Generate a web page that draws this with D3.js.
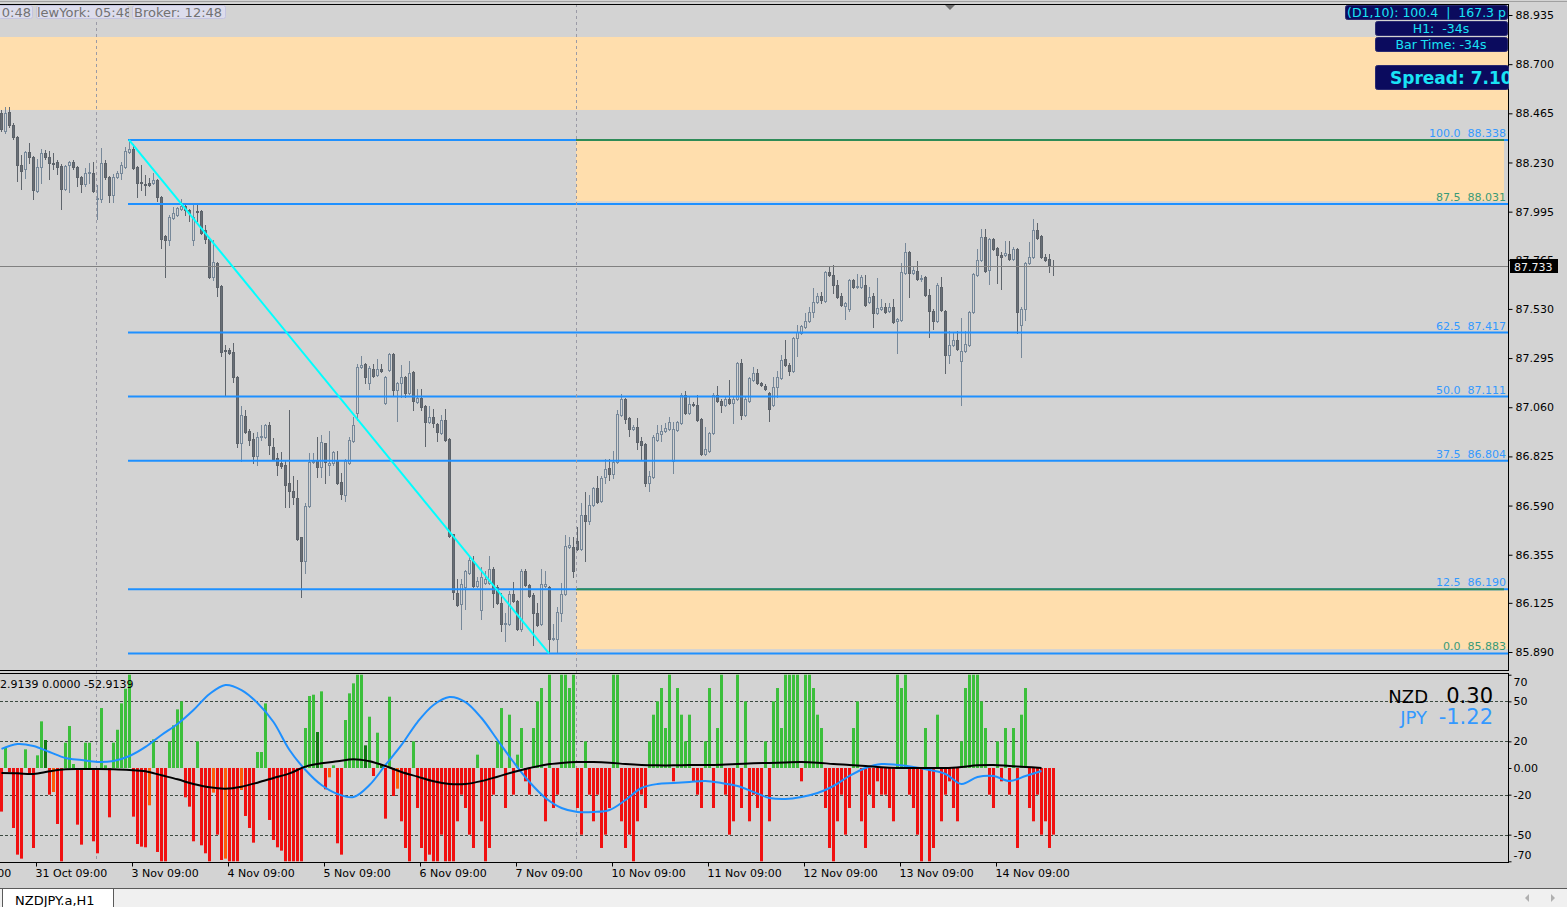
<!DOCTYPE html>
<html><head><meta charset="utf-8">
<script src="https://cdn.jsdelivr.net/npm/d3@7"></script>
<style>
body{margin:0;background:#d3d3d3;overflow:hidden}
svg{display:block}
text{font-family:"DejaVu Sans",sans-serif}
</style>
</head><body>
<svg id="chart" width="1567" height="907"></svg>
<script>
// ---------------- DATA ----------------
const opens=[88.467,88.381,88.472,88.410,88.352,88.218,88.199,88.281,88.257,88.093,
88.208,88.276,88.257,88.227,88.232,88.213,88.103,88.218,88.232,88.208,
88.160,88.127,88.179,88.179,88.055,88.055,88.227,88.160,88.074,88.160,
88.179,88.208,88.281,88.295,88.208,88.136,88.127,88.132,88.132,88.146,
88.065,87.878,87.859,87.965,87.979,88.007,88.022,88.003,87.859,87.998,
87.998,87.907,87.864,87.683,87.750,87.640,87.334,87.334,87.324,87.204,
86.889,87.018,86.946,86.908,86.827,86.918,86.918,86.975,86.870,86.818,
86.794,86.784,86.698,86.660,86.626,86.440,86.326,86.588,86.798,86.803,
86.774,86.889,86.784,86.794,86.803,86.703,86.641,86.794,86.899,87.032,
87.252,87.266,87.175,87.242,87.214,87.242,87.080,87.237,87.315,87.142,
87.175,87.204,87.128,87.228,87.085,87.104,87.066,86.989,87.013,86.980,
86.936,86.999,86.908,86.454,86.172,86.119,86.201,86.268,86.326,86.206,
86.091,86.220,86.220,86.288,86.201,86.124,86.024,86.024,86.168,86.134,
86.000,86.278,86.211,86.163,86.076,86.024,86.206,86.201,85.952,85.952,
86.076,86.168,86.392,86.392,86.421,86.383,86.545,86.516,86.593,86.674,
86.612,86.726,86.770,86.741,86.798,87.023,87.099,87.008,86.955,86.965,
86.898,86.884,86.698,86.726,86.903,86.932,86.946,86.955,86.803,86.951,
86.984,87.118,87.032,87.075,87.071,87.004,86.837,86.851,86.936,87.118,
87.089,87.071,87.099,87.080,87.099,87.271,87.023,87.089,87.190,87.223,
87.175,87.161,87.128,87.071,87.156,87.199,87.290,87.262,87.233,87.391,
87.415,87.444,87.473,87.516,87.563,87.592,87.568,87.707,87.693,87.645,
87.592,87.544,87.530,87.669,87.635,87.635,87.645,87.563,87.592,87.511,
87.530,87.539,87.520,87.539,87.473,87.477,87.702,87.802,87.702,87.712,
87.674,87.683,87.597,87.520,87.473,87.635,87.520,87.310,87.358,87.382,
87.281,87.329,87.358,87.516,87.693,87.764,87.874,87.716,87.864,87.821,
87.788,87.788,87.792,87.769,87.816,87.454,87.530,87.750,87.778,87.907,
87.878,87.778,87.769,87.735];
const highs=[88.481,88.495,88.495,88.419,88.357,88.266,88.286,88.324,88.261,88.247,
88.295,88.290,88.286,88.276,88.242,88.222,88.218,88.238,88.242,88.213,
88.165,88.203,88.227,88.232,88.122,88.300,88.242,88.165,88.175,88.189,
88.232,88.304,88.338,88.319,88.213,88.218,88.170,88.156,88.179,88.151,
88.070,87.883,87.979,88.017,88.017,88.055,88.036,88.007,88.026,88.026,
88.003,87.931,87.869,87.859,87.754,87.645,87.358,87.343,87.367,87.209,
87.066,87.047,86.955,86.936,86.941,86.975,86.980,86.989,86.913,86.841,
86.846,86.808,87.047,86.731,86.712,86.440,86.603,86.841,86.841,86.918,
86.927,86.889,86.946,86.851,86.851,86.746,86.813,86.918,87.013,87.266,
87.305,87.271,87.257,87.266,87.290,87.266,87.209,87.319,87.319,87.180,
87.262,87.209,87.281,87.233,87.147,87.147,87.071,87.066,87.051,86.984,
87.023,87.051,86.913,86.454,86.239,86.239,86.283,86.345,86.349,86.249,
86.297,86.278,86.349,86.297,86.211,86.172,86.076,86.182,86.225,86.139,
86.288,86.288,86.216,86.172,86.124,86.288,86.278,86.206,86.024,86.105,
86.220,86.450,86.440,86.440,86.488,86.603,86.655,86.641,86.679,86.731,
86.731,86.813,86.813,86.851,87.047,87.123,87.104,87.013,86.975,87.008,
86.918,86.889,86.755,86.927,86.975,86.975,86.984,87.013,86.989,86.994,
87.128,87.137,87.114,87.085,87.118,87.008,86.965,86.941,87.128,87.161,
87.099,87.109,87.190,87.109,87.276,87.290,87.109,87.204,87.252,87.242,
87.180,87.171,87.133,87.204,87.233,87.310,87.382,87.271,87.396,87.454,
87.454,87.511,87.539,87.630,87.606,87.611,87.712,87.731,87.740,87.669,
87.606,87.563,87.674,87.674,87.697,87.693,87.693,87.635,87.606,87.678,
87.578,87.559,87.559,87.578,87.487,87.750,87.845,87.807,87.731,87.759,
87.693,87.688,87.626,87.530,87.654,87.683,87.525,87.425,87.415,87.425,
87.487,87.425,87.520,87.702,87.816,87.912,87.912,87.869,87.869,87.826,
87.802,87.855,87.855,87.826,87.821,87.539,87.754,87.850,87.960,87.941,
87.883,87.792,87.792,87.764];
const lows=[88.381,88.371,88.400,88.343,88.141,88.103,88.156,88.227,88.055,88.088,
88.132,88.247,88.151,88.199,88.175,88.007,88.098,88.088,88.199,88.117,
88.088,88.117,88.132,88.088,87.960,88.041,88.151,88.041,88.041,88.156,
88.151,88.203,88.276,88.199,88.065,88.098,88.074,88.117,88.127,88.046,
87.821,87.683,87.835,87.960,87.974,88.003,87.979,87.950,87.835,87.950,
87.888,87.845,87.678,87.669,87.592,87.305,87.118,87.315,87.180,86.870,
86.803,86.936,86.879,86.794,86.784,86.903,86.913,86.837,86.808,86.736,
86.770,86.583,86.583,86.598,86.425,86.153,86.268,86.583,86.794,86.726,
86.726,86.698,86.736,86.784,86.693,86.621,86.612,86.789,86.894,86.999,
87.247,87.175,87.147,87.204,87.209,87.228,87.075,87.233,87.118,86.994,
87.109,87.109,87.123,87.047,87.080,87.047,86.874,86.984,86.965,86.898,
86.932,86.898,86.440,86.143,86.110,86.000,86.095,86.263,86.201,86.201,
86.048,86.216,86.216,86.105,86.119,85.990,85.943,86.019,86.129,85.995,
85.990,86.206,86.153,85.924,86.014,86.019,86.201,85.883,85.947,85.884,
86.038,86.163,86.388,86.249,86.378,86.378,86.326,86.502,86.588,86.603,
86.607,86.698,86.712,86.722,86.794,87.018,86.984,86.922,86.951,86.860,
86.808,86.684,86.660,86.722,86.898,86.898,86.941,86.951,86.746,86.946,
86.980,87.028,87.028,87.066,86.994,86.832,86.832,86.846,86.932,87.085,
87.037,87.066,87.075,86.984,87.094,87.004,87.018,87.085,87.185,87.171,
87.161,87.142,86.994,87.066,87.109,87.195,87.257,87.214,87.228,87.305,
87.410,87.439,87.468,87.492,87.559,87.559,87.563,87.688,87.606,87.583,
87.544,87.482,87.520,87.630,87.630,87.630,87.544,87.559,87.444,87.506,
87.525,87.511,87.516,87.463,87.319,87.473,87.697,87.587,87.697,87.669,
87.664,87.592,87.396,87.434,87.468,87.520,87.224,87.271,87.353,87.334,
87.071,87.324,87.353,87.511,87.688,87.759,87.707,87.649,87.811,87.654,
87.626,87.783,87.764,87.764,87.415,87.300,87.477,87.745,87.774,87.864,
87.774,87.759,87.707,87.693];
const closes=[88.391,88.467,88.410,88.352,88.218,88.189,88.281,88.257,88.098,88.208,
88.276,88.257,88.227,88.223,88.208,88.103,88.213,88.232,88.208,88.160,
88.127,88.179,88.184,88.093,88.060,88.227,88.160,88.074,88.160,88.179,
88.218,88.286,88.295,88.203,88.132,88.132,88.122,88.122,88.146,88.065,
87.864,87.859,87.969,87.988,88.012,88.022,88.003,87.988,87.969,87.993,
87.893,87.864,87.683,87.754,87.635,87.324,87.329,87.319,87.204,86.889,
87.023,86.941,86.903,86.827,86.918,86.922,86.975,86.879,86.813,86.784,
86.779,86.688,86.660,86.631,86.430,86.326,86.588,86.798,86.803,86.774,
86.894,86.798,86.794,86.846,86.698,86.645,86.803,86.903,86.975,87.252,
87.262,87.204,87.247,87.209,87.242,87.233,87.204,87.315,87.142,87.175,
87.204,87.128,87.223,87.089,87.104,87.061,86.989,87.013,86.984,86.941,
86.999,86.903,86.445,86.177,86.114,86.216,86.278,86.330,86.206,86.230,
86.249,86.239,86.288,86.172,86.124,86.024,86.029,86.168,86.134,86.000,
86.278,86.211,86.158,86.076,86.019,86.216,86.216,85.952,85.957,86.081,
86.168,86.397,86.402,86.278,86.383,86.545,86.516,86.593,86.674,86.607,
86.722,86.765,86.741,86.798,87.028,87.099,87.004,86.955,86.965,86.894,
86.879,86.698,86.731,86.918,86.936,86.946,86.960,86.989,86.955,86.989,
87.118,87.032,87.075,87.071,86.999,86.837,86.860,86.936,87.118,87.089,
87.071,87.099,87.080,87.099,87.271,87.023,87.099,87.199,87.223,87.175,
87.166,87.147,87.051,87.156,87.204,87.286,87.262,87.233,87.391,87.420,
87.449,87.473,87.516,87.563,87.592,87.573,87.707,87.693,87.645,87.587,
87.549,87.559,87.669,87.635,87.640,87.683,87.549,87.587,87.511,87.535,
87.539,87.516,87.539,87.468,87.482,87.707,87.802,87.702,87.716,87.674,
87.678,87.597,87.520,87.473,87.645,87.525,87.310,87.358,87.382,87.339,
87.329,87.362,87.516,87.697,87.764,87.874,87.712,87.864,87.816,87.788,
87.778,87.797,87.769,87.816,87.516,87.530,87.750,87.778,87.907,87.869,
87.778,87.764,87.740,87.733];

const priceTicks=[88.935,88.700,88.465,88.230,87.995,87.765,87.530,87.295,87.060,86.825,86.590,86.355,86.125,85.890];
const indTicks=[70,50,20,0,-20,-50,-70];
const indGrid=[50,20,-20,-50];
const dateLabels=["30 Oct 09:00","31 Oct 09:00","3 Nov 09:00","4 Nov 09:00","5 Nov 09:00","6 Nov 09:00","7 Nov 09:00","10 Nov 09:00","11 Nov 09:00","12 Nov 09:00","13 Nov 09:00","14 Nov 09:00"];
const dateBars=[-15,9,33,57,81,105,129,153,177,201,225,249];
const separatorBars=[24,144];
const fibRatios=["100.0","87.5","62.5","50.0","37.5","12.5","0.0"];
const fibPrices=[88.338,88.031,87.417,87.111,86.804,86.190,85.883];
const fibGreenLabel=[false,true,false,false,false,false,true];
const fibStartBar=32, fibEndBar=137;
const topBand=[88.830,88.481];
const zoneUpper=[88.338,88.045];
const zoneLower=[86.190,85.904];
const zoneStartBar=144;
const currentPrice=87.733;

const hist=[-32.7,15.5,-3,-45,-65,-68,14,-5,-60,9.5,
35,21,-20,-18,-42,-70,19,31.5,3,-42.5,
-57.5,19,19,-55,-64,45,2,-37,19,28.7,
48.5,59.5,70,-36.5,-57,-59,-59.5,-28,21.5,-63,
-70,-70,20,32,44,50,-22,-29,-55,20,
-58,-64,-70,-18.5,-50,-69,-68,-70,-70,-70,
-16.5,-36,-45,-56,12,12,48.5,-39,-54,-59.5,
-62,-70,-70,-70,-70,-70,30,54,55,27,
57.5,-16,-7,2,-56.5,-65,36,56,63.5,70,
70,17,38.5,-6,26.5,3,-38,53.5,-21,-15.5,
-40,-60,-70,20,-30,-60,-70,-65,
-70,-70,-50,-70,-70,-70,-40,-20,
-30,-50,-60,10,-40,-70,-60,-20,
20,45,-30,40,-20,10,30,-10,
-20,30,50,60,-40,70,-30,-20,
70,70,60,70,-30,-50,20,-20,
-40,-20,-60,-50,-30,70,70,-40,
-60,-50,-70,-40,-20,-30,20,40,
50,60,30,70,-10,60,40,20,
40,-10,-20,-30,20,60,-30,30,
70,-20,-50,-40,70,-30,50,-40,
-20,-30,-70,20,-40,50,60,30,
70,70,70,70,-10,70,70,60,
40,30,-30,-60,-70,-40,-20,-50,
-30,30,50,-40,-60,-20,-30,-10,
-20,-20,-30,-40,70,60,70,-20,
-30,-50,-70,30,-70,-60,40,-40,
-20,-10,-30,-40,20,60,70,70,
70,50,30,-20,-30,20,-10,30,
-20,30,-60,40,60,-30,-40,-20,
-50,-40,-60,-50];
const darkGreenBars=[11,79,91,95];
const orangeBars=[13,37,53,56,60,82,99];

// smoothed lines, one value every 4 bars
const blueLine=[14.3,18,16.5,12,7.5,6,4.5,5.3,9,15.8,24.8,33,43.5,55.5,62.3,58.5,48.8,34.5,13.5,-1.5,-12.8,-19.5,-21.8,-12.8,2.3,17.3,34.5,47.3,53.3,49.5,37.5,21,4.5,-10.5,-22.5,-30,-33,-33,-31.5,-24,-15,-12,-11.3,-10.5,-9.8,-11.3,-13.5,-18,-22.5,-23.3,-21.8,-18.8,-13.5,-6,0,3,2.3,0.8,-1.5,-4.5,-12,-6.8,-6,-9.8,-6,-2.3];
const blackLine=[-3.8,-4,-4.5,-2.5,-1,-0.8,-0.8,-1,-1.5,-2.5,-5.5,-8.5,-12,-14.5,-15.5,-14,-11,-7.5,-4,1,3.5,5,6.5,5,1.5,-3,-6.5,-10,-12,-12,-9.8,-6.5,-3,0,2.5,3.8,4.5,4.5,4,3,2.3,2,2,2.3,2.3,2.5,3,3.5,3.8,4.2,4.5,4,3,2.3,1.5,0.5,0,0,0,0,0.8,2,2.3,1.5,0.8,0];
const lineStep=4;

// ---------------- DRAW ----------------
const svg=d3.select("#chart");
const PR=1508, MT=4, MB=670, IT=673, IB=862;
const x=d3.scaleLinear().domain([0,377]).range([0,PR]);
const y=d3.scaleLinear().domain([85.890,88.935]).range([652,15]);
const yi=d3.scaleLinear().domain([-70,70]).range([861.3,674.7]).clamp(true);

svg.append("rect").attr("width",1567).attr("height",907).attr("fill","#d3d3d3");

const defs=svg.append("defs");
defs.append("clipPath").attr("id","mainClip").append("rect").attr("x",0).attr("y",MT).attr("width",PR).attr("height",MB-MT);
defs.append("clipPath").attr("id","indClip").append("rect").attr("x",0).attr("y",IT).attr("width",PR).attr("height",IB-IT);

const gm=svg.append("g").attr("clip-path","url(#mainClip)");
// zones
gm.append("rect").attr("x",0).attr("width",PR).attr("y",y(topBand[0])).attr("height",y(topBand[1])-y(topBand[0])).attr("fill","#ffdead");
[zoneUpper,zoneLower].forEach((z,k)=>{
  gm.append("rect").attr("x",x(zoneStartBar)).attr("width",x(k===0?376:377)-x(zoneStartBar))
    .attr("y",y(z[0])).attr("height",y(z[1])-y(z[0])).attr("fill","#ffdead");
});
// separators
separatorBars.forEach(b=>{
  svg.append("line").attr("x1",x(b)+0.5).attr("x2",x(b)+0.5).attr("y1",MT).attr("y2",IB)
    .attr("stroke","#9a9aa6").attr("stroke-dasharray","3,3");
});

// candles
const candles=d3.range(opens.length).map(i=>({i,o:opens[i],h:highs[i],l:lows[i],c:closes[i]}));
const cg=gm.append("g");
cg.selectAll("line.w").data(candles).join("line")
  .attr("x1",d=>x(d.i)+1.5).attr("x2",d=>x(d.i)+1.5)
  .attr("y1",d=>Math.round(y(d.h))).attr("y2",d=>Math.round(y(d.l))+1)
  .attr("stroke",d=>d.c>=d.o?"#778899":"#5f656c").attr("stroke-width",1);
cg.selectAll("rect.b").data(candles).join("rect")
  .attr("x",d=>x(d.i)+0.5).attr("width",2)
  .attr("y",d=>Math.round(y(Math.max(d.o,d.c)))+0.5)
  .attr("height",d=>Math.max(0,Math.round(y(Math.min(d.o,d.c)))-Math.round(y(Math.max(d.o,d.c)))))
  .attr("fill",d=>d.c>=d.o?"#d3d3d3":"#686e76")
  .attr("stroke",d=>d.c>=d.o?"#778899":"#5c6269").attr("stroke-width",1);

// current price line
gm.append("line").attr("x1",0).attr("x2",PR).attr("y1",Math.round(y(currentPrice))+0.5).attr("y2",Math.round(y(currentPrice))+0.5)
  .attr("stroke","#808080").attr("stroke-width",1);

// fib lines
fibPrices.forEach((p,k)=>{
  gm.append("line").attr("x1",x(fibStartBar)).attr("x2",PR).attr("y1",y(p)).attr("y2",y(p))
    .attr("stroke","#1e90ff").attr("stroke-width",2);
});
// zone top green lines
[zoneUpper[0],zoneLower[0]].forEach(p=>{
  gm.append("line").attr("x1",x(zoneStartBar)).attr("x2",x(376)).attr("y1",y(p)).attr("y2",y(p))
    .attr("stroke","#2e8b57").attr("stroke-width",2);
});
// diagonal
gm.append("line").attr("x1",x(fibStartBar)+1).attr("y1",y(fibPrices[0])).attr("x2",x(fibEndBar)+1).attr("y2",y(fibPrices[6]))
  .attr("stroke","#00ffff").attr("stroke-width",2);
// fib labels
fibPrices.forEach((p,k)=>{
  gm.append("text").attr("x",1506).attr("y",y(p)-3).attr("text-anchor","end")
    .style("white-space","pre").attr("font-size",11)
    .attr("fill",fibGreenLabel[k]?"#3a9a78":"#3399ff")
    .text(fibRatios[k]+"  "+p.toFixed(3));
});

// panel borders
svg.append("line").attr("x1",0).attr("x2",1567).attr("y1",1.5).attr("y2",1.5).attr("stroke","#a0a0a0");
svg.append("line").attr("x1",0).attr("x2",PR).attr("y1",MT+0.5).attr("y2",MT+0.5).attr("stroke","#000");
svg.append("line").attr("x1",0).attr("x2",PR).attr("y1",MB+0.5).attr("y2",MB+0.5).attr("stroke","#000");
svg.append("line").attr("x1",0).attr("x2",PR).attr("y1",IT+0.5).attr("y2",IT+0.5).attr("stroke","#000");
svg.append("line").attr("x1",0).attr("x2",PR).attr("y1",IB+0.5).attr("y2",IB+0.5).attr("stroke","#000");
svg.append("line").attr("x1",PR+0.5).attr("x2",PR+0.5).attr("y1",MT).attr("y2",MB+1).attr("stroke","#000");
svg.append("line").attr("x1",PR+0.5).attr("x2",PR+0.5).attr("y1",IT).attr("y2",IB+1).attr("stroke","#000");
// shift marker
svg.append("path").attr("d","M945,5 L955,5 L950,10 Z").attr("fill","#707070");

// price axis
const pax=svg.append("g").attr("transform",`translate(${PR+0.5},0)`)
  .call(d3.axisRight(y).tickValues(priceTicks).tickFormat(d3.format(".3f")).tickSize(4).tickPadding(3).tickSizeOuter(0));
pax.select(".domain").remove();
pax.selectAll("text").attr("font-size",11).attr("font-family","DejaVu Sans").attr("fill","#000");
pax.selectAll("line").attr("stroke","#000");
// current price label
svg.append("rect").attr("x",1510).attr("y",Math.round(y(currentPrice))-7).attr("width",48).attr("height",14).attr("fill","#000");
svg.append("text").attr("x",1514).attr("y",Math.round(y(currentPrice))+4.5).attr("font-size",11).attr("fill","#f0f0f0").text(currentPrice.toFixed(3));

// ---------- indicator ----------
const gi=svg.append("g").attr("clip-path","url(#indClip)");
indGrid.forEach(v=>{
  gi.append("line").attr("x1",0).attr("x2",PR).attr("y1",Math.round(yi(v))+0.5).attr("y2",Math.round(yi(v))+0.5)
    .attr("stroke","#3c4a40").attr("stroke-dasharray","3,2");
});
const hdata=hist.map((v,i)=>({i,v}));
gi.selectAll("rect.h").data(hdata).join("rect")
  .attr("x",d=>x(d.i)).attr("width",3)
  .attr("y",d=>Math.min(yi(d.v),yi(0)))
  .attr("height",d=>Math.abs(yi(d.v)-yi(0)))
  .attr("fill",d=>d.v>=0?(darkGreenBars.includes(d.i)?"#137a13":"#3cbf3c"):(orangeBars.includes(d.i)?"#ff5a0a":"#f01010"));
const ln=d3.line().x((d,k)=>x(k*lineStep)+1.5).y(d=>yi(d)).curve(d3.curveCatmullRom);
gi.append("path").attr("d",ln(blueLine)).attr("fill","none").attr("stroke","#1e90ff").attr("stroke-width",2);
gi.append("path").attr("d",ln(blackLine)).attr("fill","none").attr("stroke","#000").attr("stroke-width",2);

const iax=svg.append("g").attr("transform",`translate(${PR+0.5},0)`)
  .call(d3.axisRight(yi).tickValues(indTicks).tickFormat(v=>v===0?"0.00":String(v)).tickSize(3).tickPadding(2).tickSizeOuter(0));
iax.select(".domain").remove();
iax.selectAll("text").attr("font-size",11).attr("font-family","DejaVu Sans").attr("fill","#000")
  .attr("dy",v=>v===70?"0.95em":(v===-70?"-0.25em":"0.32em"));
iax.selectAll("line").attr("stroke","#000");

svg.append("text").attr("x",0).attr("y",688).attr("font-size",11).attr("fill","#000").text("2.9139 0.0000 -52.9139");
svg.append("text").attr("x",1428).attr("y",703).attr("text-anchor","end").attr("font-family","DejaVu Sans Mono").attr("font-size",18).attr("fill","#000").text("NZD");
svg.append("text").attr("x",1493).attr("y",703).attr("text-anchor","end").attr("font-size",21).attr("fill","#000").text("0.30");
svg.append("text").attr("x",1427).attr("y",724).attr("text-anchor","end").attr("font-family","DejaVu Sans Mono").attr("font-size",18).attr("fill","#3399ff").text("JPY");
svg.append("text").attr("x",1493).attr("y",724).attr("text-anchor","end").attr("font-size",21).attr("fill","#3399ff").text("-1.22");

// time axis
const tax=svg.append("g").attr("transform",`translate(0,${IB+0.5})`)
  .call(d3.axisBottom(x).tickValues(dateBars).tickFormat((d,k)=>dateLabels[k]).tickSize(4).tickPadding(3).tickSizeOuter(0));
tax.select(".domain").remove();
tax.selectAll("line").attr("stroke","#000");
tax.selectAll("text").attr("text-anchor","start").attr("x",-1).attr("font-size",11).attr("font-family","DejaVu Sans").attr("fill","#000");

// ---------- header boxes ----------
function box(id,x0,y0,w,h,fill,stroke){
  defs.append("clipPath").attr("id",id).append("rect").attr("x",x0).attr("y",y0).attr("width",w).attr("height",h);
  svg.append("rect").attr("x",x0+0.5).attr("y",y0+0.5).attr("width",w-1).attr("height",h-1).attr("rx",2)
    .attr("fill",fill).attr("stroke",stroke);
  return svg.append("g").attr("clip-path",`url(#${id})`);
}
box("h1",-2,5,35,14,"#dcdcec","#c4c4e0").append("text").attr("x",31).attr("y",17).attr("text-anchor","end").attr("font-size",13).attr("fill","#727272").text("0:48");
box("h2",36,5,93,14,"#dcdcec","#c4c4e0").append("text").attr("x",37).attr("y",17).attr("font-size",13).attr("fill","#727272").text("lewYork: 05:48");
box("h3",132,5,94,14,"#dcdcec","#c4c4e0").append("text").attr("x",134).attr("y",17).attr("font-size",13).attr("fill","#727272").text("Broker: 12:48");

box("r1",1345,5,163,15,"#0b0b5e","#2a2a70").append("text").attr("x",1347).attr("y",17).style("white-space","pre").attr("font-size",12.5).attr("fill","#19e3f5").text("(D1,10): 100.4  |  167.3 p");
box("r2",1375,21,133,15,"#0b0b5e","#2a2a70").append("text").attr("x",1441).attr("y",33).attr("text-anchor","middle").style("white-space","pre").attr("font-size",12.5).attr("fill","#19e3f5").text("H1:  -34s");
box("r3",1375,37,133,15,"#0b0b5e","#2a2a70").append("text").attr("x",1441).attr("y",49).attr("text-anchor","middle").attr("font-size",12.5).attr("fill","#19e3f5").text("Bar Time: -34s");
box("r4",1375,65,134,25,"#0b0b5e","#2a2a70").append("text").attr("x",1390).attr("y",84).attr("font-size",17).attr("font-weight","bold").attr("fill","#19e3f5").text("Spread: 7.10");

// ---------- bottom tab strip ----------
svg.append("rect").attr("x",0).attr("y",888).attr("width",1567).attr("height",19).attr("fill","#f0f0f0");
svg.append("line").attr("x1",0).attr("x2",1567).attr("y1",888.5).attr("y2",888.5).attr("stroke","#5a5a5a");
svg.append("rect").attr("x",2.5).attr("y",888.5).attr("width",111).attr("height",20).attr("fill","#fff").attr("stroke","#5a5a5a");
svg.append("text").attr("x",15).attr("y",905).attr("font-size",13).attr("fill","#000").text("NZDJPY.a,H1");
svg.append("path").attr("d","M1529,894 L1529,902 L1525,898 Z").attr("fill","#b0b0b0");
svg.append("path").attr("d","M1551,894 L1551,902 L1555,898 Z").attr("fill","#b0b0b0");
</script>
</body></html>
